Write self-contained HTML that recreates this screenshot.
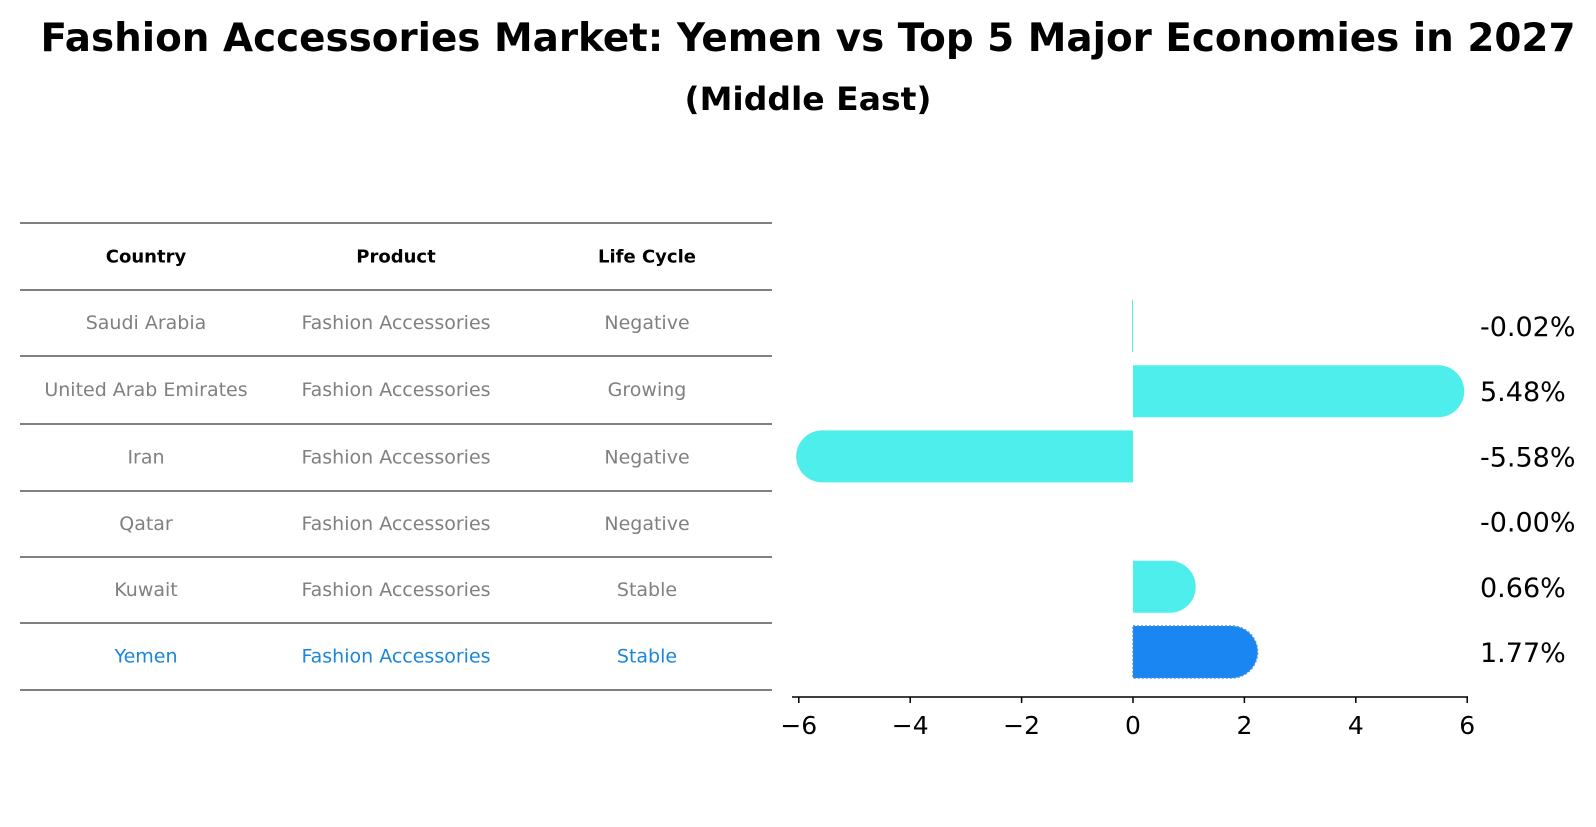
<!DOCTYPE html>
<html><head><meta charset="utf-8"><style>
body{margin:0;background:#fff;font-family:"DejaVu Sans","Liberation Sans",sans-serif;}
#wrap{position:relative;width:1596px;height:823px;}
</style></head><body>
<div id="wrap">
<svg id="svg" width="1596" height="823" xmlns="http://www.w3.org/2000/svg" style="font-family:'DejaVu Sans','Liberation Sans',sans-serif">
<text x="808" y="51" text-anchor="middle" font-size="39" font-weight="bold" textLength="1535" lengthAdjust="spacingAndGlyphs">Fashion Accessories Market: Yemen vs Top 5 Major Economies in 2027</text>
<text x="808" y="110" text-anchor="middle" font-size="32" font-weight="bold" textLength="247" lengthAdjust="spacingAndGlyphs">(Middle East)</text>
<g id="table"></g>
<g id="bars"></g>
</svg>
</div>
<script>
const countries=["Saudi Arabia","United Arab Emirates","Iran","Qatar","Kuwait","Yemen"];
const products=["Fashion Accessories","Fashion Accessories","Fashion Accessories","Fashion Accessories","Fashion Accessories","Fashion Accessories"];
const lifecycles=["Negative","Growing","Negative","Negative","Stable","Stable"];
const values=[-0.02,5.48,-5.58,-0.00,0.66,1.77];
const labels=["-0.02%","5.48%","-5.58%","-0.00%","0.66%","1.77%"];
const ticks=[-6,-4,-2,0,2,4,6];
const NS="http://www.w3.org/2000/svg";
function mk(tag,attrs,parent){const e=document.createElementNS(NS,tag);for(const k in attrs)e.setAttribute(k,attrs[k]);parent.appendChild(e);return e;}
const tbl=document.getElementById('table');
const lineYs=[223,290,356,424,491,557,623,690];
lineYs.forEach((y,i)=>{const l=mk('line',{x1:20,x2:772,y1:y,y2:y,stroke:'#000','stroke-width':1},tbl);

});
const colX=[146,396,647];
["Country","Product","Life Cycle"].forEach((h,i)=>{const t=mk('text',{x:colX[i],y:(lineYs[0]+lineYs[1])/2+6,'text-anchor':'middle','font-size':18,'font-weight':'bold'},tbl);t.textContent=h;

});
countries.forEach((c,r)=>{const col=r===countries.length-1?'#1a86d8':'#808080';
[c,products[r],lifecycles[r]].forEach((v,i)=>{const t=mk('text',{x:colX[i],y:(lineYs[r+1]+lineYs[r+2])/2+6,'text-anchor':'middle','font-size':19,fill:col},tbl);t.textContent=v;

});});
const g=document.getElementById('bars');
const x0=1133,ppu=55.7;
const X=v=>x0+v*ppu;
const rowY=r=>326+r*65.2;
const bh=52,rad=26;
values.forEach((v,r)=>{
 const yc=rowY(r),col=r===values.length-1?'#1a86f2':'#4eeeec';
 const xe=X(v);
 let d=null;
 if(v===0){d=null;}
 else if(Math.abs(v)<0.05){d=`M${x0},${yc-bh/2}h${v<0?-1:1}v${bh}h${v<0?1:-1}z`;}
 else if(v>0){d=`M${x0},${yc-bh/2}H${xe}A${rad},${rad} 0 0 1 ${xe},${yc+bh/2}H${x0}Z`;}
 else{d=`M${x0},${yc-bh/2}H${xe}A${rad},${rad} 0 0 0 ${xe},${yc+bh/2}H${x0}Z`;}
 if(d){
 const p=mk('path',{d:d,fill:col},g);
 if(r===values.length-1){p.setAttribute('stroke','#4a90d9');p.setAttribute('stroke-dasharray','2,2');p.setAttribute('stroke-width','1.5');}
 
 
 }
 const t=mk('text',{x:1480,y:yc+10,'font-size':27},g);t.textContent=labels[r];
 
 
});
const ax=mk('line',{x1:792,x2:1468,y1:697,y2:697,stroke:'#000','stroke-width':1.5},g);


ticks.forEach(tv=>{const x=X(tv);
const tl=mk('line',{x1:x,x2:x,y1:697,y2:703,stroke:'#000','stroke-width':1.5},g);


const t=mk('text',{x:x,y:734,'text-anchor':'middle','font-size':25},g);t.textContent=tv<0?'\u2212'+(-tv):String(tv);

});
</script>
</body></html>
